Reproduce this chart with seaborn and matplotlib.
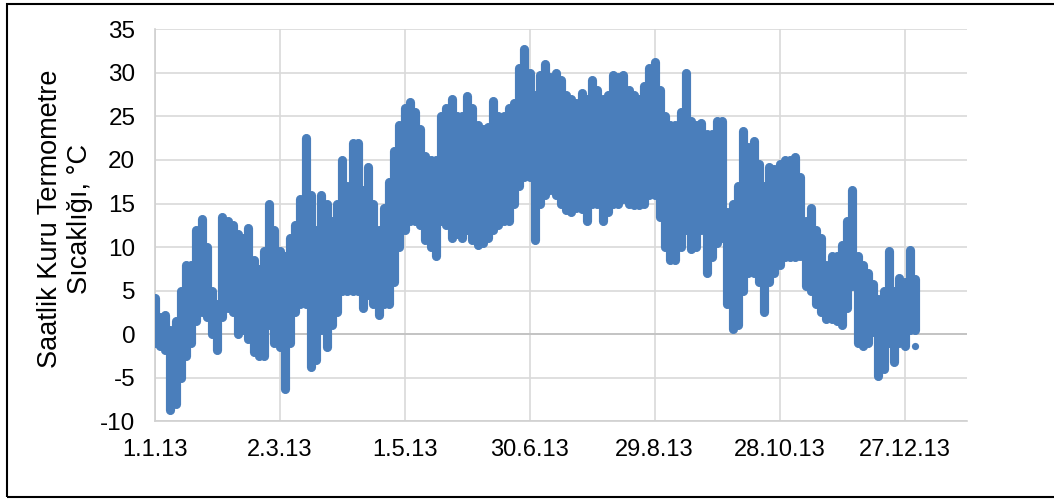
import numpy as np
import pandas as pd
import matplotlib
matplotlib.use("Agg")
import matplotlib.pyplot as plt
from matplotlib.patches import Rectangle
import seaborn as sns

tick_days = [0, 60, 120, 180, 240, 300, 360]
tick_labels = ["1.1.13", "2.3.13", "1.5.13", "30.6.13", "29.8.13", "28.10.13", "27.12.13"]
y_ticks = [-10, -5, 0, 5, 10, 15, 20, 25, 30, 35]

# Daily-band upper and lower readings, one pair every 2.5 days
days = np.arange(0, 365.1, 2.5)
upper = [4.2, 2, 2.2, 0.5, 1.5, 5, 8, 8, 12, 13.2,
         10, 5, 3.5, 13.4, 13, 12.5, 11.5, 11, 12.2, 8.5,
         7.5, 9.5, 15, 12, 9.5, 9, 11, 12.5, 15.5, 22.5,
         16, 12, 16, 15, 13, 15, 20, 17, 22, 22,
         16.5, 19.2, 15, 12, 14.5, 17.5, 21, 24, 26, 26.7,
         25.5, 23.5, 20.5, 20, 20, 25, 26, 27, 25, 25,
         27.3, 26, 24, 23.5, 23.8, 26.8, 25, 25, 26, 26.5,
         30.5, 32.7, 30, 27.5, 29.8, 31, 29.5, 30, 29.2, 27.5,
         27, 26.5, 27.7, 27, 29.2, 28, 27, 27.5, 29.7, 29.5,
         29.7, 28, 27.5, 27, 28.5, 30.5, 31.3, 28, 25, 24,
         24, 25.5, 30, 24.5, 24, 24.3, 23, 23, 24.5, 24.5,
         14, 15, 17, 23.3, 21.5, 22.2, 19.5, 17, 19.2, 19,
         19.5, 20, 20, 20.3, 18, 13, 14.5, 12, 11, 8,
         9, 9, 10.2, 13, 16.5, 9, 8, 7, 5.8, 4,
         5, 9.5, 5, 6.5, 6, 9.7, 6.3]
lower = [-1, -1.4, -1.8, -8.7, -8, -5, -2.5, -1, 1.5, 2.5,
         2, 0, -1.8, 2, 3, 2.5, 0, 0.5, -0.5, -2,
         -2.5, -2.5, 1, -1, -1.5, -6.3, -1, 2.5, 3.5, 3.5,
         -3.8, -3, 0.5, -1.5, 1, 2.5, 5, 5, 5, 5,
         3, 4.5, 3.5, 2.2, 3.5, 3.5, 6, 10, 12, 13,
         13, 12.5, 10.8, 10, 9, 13, 12.5, 11, 11.5, 11,
         12, 10.8, 10.2, 10.5, 11, 12, 12.5, 13, 13, 15,
         17, 18, 18, 10.8, 15, 16, 16.5, 16, 15, 14.2,
         14, 14.5, 14.4, 13, 15, 15, 13, 14, 15, 15,
         15.5, 15, 14.8, 14.8, 15, 16, 16, 13.5, 10, 8.5,
         8.5, 10, 12, 9.8, 10, 12, 7, 8.9, 10.5, 11,
         3.5, 0.6, 1, 5, 7, 7, 6, 2.5, 6, 7,
         8, 8.9, 8.9, 8.9, 9, 5.5, 5, 3.5, 2.5, 1.8,
         1.8, 1.5, 1, 3, 5.5, -1, -1.3, -1, 0.3, -4.8,
         -4, -1, -3.2, -1, -1.4, 0.5, 0.5]
lone_days = [365]
lone_temps = [-1.4]

sns.set_theme(style="white")
plt.rcParams["font.family"] = ["Liberation Sans", "DejaVu Sans"]
plt.rcParams["axes.unicode_minus"] = False

W, H = 1054, 499
fig = plt.figure(figsize=(W / 100, H / 100), dpi=100, facecolor="white")
ax = fig.add_axes([154.7 / W, 1 - 421.3 / H, (967 - 154.7) / W, (421.3 - 29.3) / H])

long = pd.DataFrame({
    "day": np.concatenate([days, days]),
    "temp": np.concatenate([upper, lower]),
})

blue = "#4A7EBB"
sns.lineplot(data=long, x="day", y="temp", units="day", estimator=None, sort=False,
             color=blue, linewidth=6.6, solid_capstyle="round", ax=ax, zorder=3)
sns.scatterplot(x=lone_days, y=lone_temps, color=blue, s=27, linewidth=0, ax=ax, zorder=3, clip_on=False)

ax.set_xlim(0, 390)
ax.set_ylim(-10, 35)
ax.set_xticks(tick_days, tick_labels)
ax.set_yticks(y_ticks)
ax.grid(True, color="#D9D9D9", linewidth=1.2)
ax.set_axisbelow(True)
ax.axhline(0, color="#BFBFBF", linewidth=1.2, zorder=1)
ax.tick_params(axis="x", length=0, labelsize=17, colors="black", pad=13)
ax.tick_params(axis="y", length=0, labelsize=17.5, colors="black", pad=14)
ax.set_xlabel("")
ax.set_ylabel("")
for name, sp in ax.spines.items():
    sp.set_visible(name in ("left", "bottom"))
    sp.set_color("#D0D0D0")
    sp.set_linewidth(1.2)

fig.text(65 / W, 1 - 219 / H, "Saatlik Kuru Termometre\nSıcaklığı, °C", rotation=90,
         ha="center", va="center", multialignment="center", fontsize=19.5, color="black",
         linespacing=1.2)

fig.add_artist(Rectangle((6.5 / W, 1 - 496.5 / H), 1100 / W, 492.5 / H, fill=False,
                         edgecolor="black", linewidth=1.5, transform=fig.transFigure))

fig.savefig("out.png", dpi=100)
